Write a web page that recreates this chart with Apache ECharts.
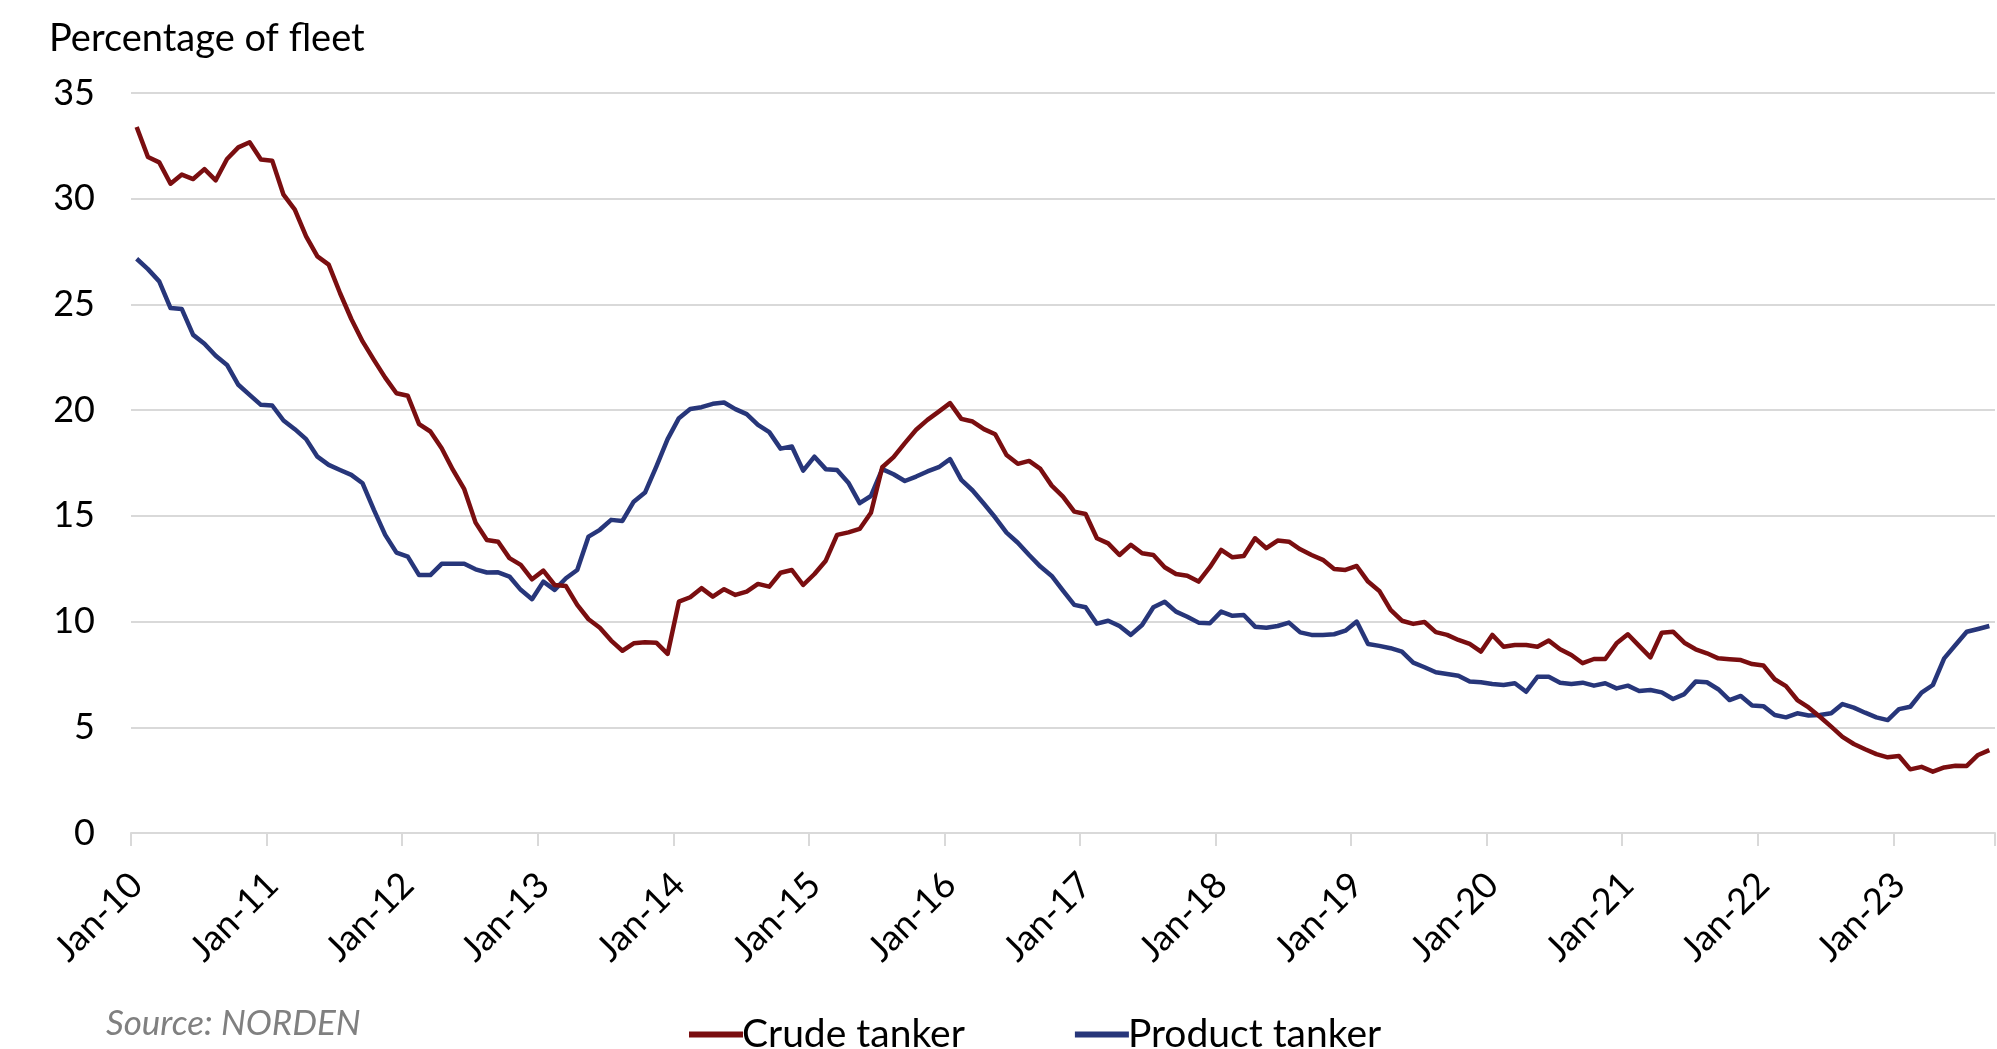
<!DOCTYPE html>
<html>
<head>
<meta charset="utf-8">
<title>Tanker fleet share</title>
<script src="https://cdn.jsdelivr.net/npm/echarts@6/dist/echarts.min.js"></script>
<style>
  html, body { margin: 0; padding: 0; background: #fff; }
  #chart { width: 1997px; height: 1049px; }
</style>
</head>
<body>
<div id="chart"></div>
<script>
// Monthly series, Jan-10 through Sep-23 (percentage of fleet)
const crudeTanker = [
  33.39, 31.97, 31.72, 30.71, 31.14, 30.93, 31.40, 30.87, 31.88, 32.43, 32.67, 31.85,
  31.80, 30.19, 29.48, 28.22, 27.27, 26.88, 25.54, 24.31, 23.25, 22.38, 21.54, 20.80,
  20.68, 19.34, 18.99, 18.20, 17.17, 16.26, 14.68, 13.86, 13.78, 13.00, 12.68, 12.00,
  12.41, 11.73, 11.68, 10.79, 10.11, 9.71, 9.10, 8.62, 8.97, 9.02, 9.00, 8.47,
  10.94, 11.15, 11.58, 11.18, 11.53, 11.26, 11.42, 11.78, 11.65, 12.31, 12.44, 11.73,
  12.25, 12.88, 14.10, 14.22, 14.38, 15.15, 17.30, 17.78, 18.44, 19.07, 19.54, 19.93,
  20.33, 19.59, 19.46, 19.10, 18.86, 17.88, 17.46, 17.60, 17.22, 16.43, 15.91, 15.20,
  15.09, 13.94, 13.70, 13.15, 13.63, 13.23, 13.15, 12.57, 12.25, 12.17, 11.89, 12.57,
  13.39, 13.04, 13.10, 13.94, 13.47, 13.83, 13.78, 13.42, 13.15, 12.92, 12.49, 12.44,
  12.63, 11.89, 11.45, 10.55, 10.04, 9.89, 9.98, 9.50, 9.37, 9.13, 8.94, 8.58,
  9.37, 8.81, 8.89, 8.89, 8.81, 9.10, 8.69, 8.42, 8.03, 8.23, 8.23, 8.97,
  9.40, 8.85, 8.31, 9.47, 9.52, 9.00, 8.69, 8.50, 8.26, 8.22, 8.18, 7.99,
  7.92, 7.27, 6.95, 6.29, 5.94, 5.50, 5.03, 4.55, 4.21, 3.96, 3.73, 3.58,
  3.64, 3.01, 3.13, 2.90, 3.10, 3.18, 3.17, 3.69, 3.92
];

const productTanker = [
  27.16, 26.67, 26.09, 24.83, 24.78, 23.56, 23.14, 22.57, 22.14, 21.20, 20.72, 20.25,
  20.22, 19.51, 19.10, 18.63, 17.80, 17.41, 17.17, 16.94, 16.54, 15.28, 14.10, 13.26,
  13.07, 12.20, 12.20, 12.73, 12.73, 12.73, 12.47, 12.32, 12.33, 12.13, 11.50, 11.06,
  11.89, 11.50, 12.05, 12.44, 14.02, 14.34, 14.81, 14.76, 15.67, 16.10, 17.33, 18.63,
  19.62, 20.05, 20.14, 20.30, 20.36, 20.05, 19.81, 19.30, 18.96, 18.18, 18.28, 17.14,
  17.80, 17.21, 17.17, 16.57, 15.60, 15.94, 17.21, 16.97, 16.65, 16.86, 17.10, 17.30,
  17.68, 16.70, 16.20, 15.57, 14.92, 14.21, 13.73, 13.15, 12.60, 12.16, 11.46, 10.79,
  10.68, 9.90, 10.04, 9.79, 9.37, 9.84, 10.68, 10.94, 10.47, 10.23, 9.95, 9.92,
  10.47, 10.27, 10.31, 9.76, 9.71, 9.79, 9.95, 9.49, 9.37, 9.37, 9.40, 9.57,
  10.00, 8.94, 8.85, 8.74, 8.58, 8.06, 7.84, 7.60, 7.52, 7.44, 7.16, 7.13,
  7.05, 7.00, 7.08, 6.68, 7.39, 7.39, 7.11, 7.05, 7.11, 6.97, 7.08, 6.84,
  6.97, 6.72, 6.76, 6.65, 6.34, 6.57, 7.16, 7.13, 6.80, 6.29, 6.48, 6.03,
  6.00, 5.58, 5.47, 5.66, 5.56, 5.58, 5.66, 6.10, 5.93, 5.69, 5.47, 5.34,
  5.86, 5.97, 6.64, 7.00, 8.26, 8.89, 9.52, 9.65, 9.79
];

const monthNames = ['Jan', 'Feb', 'Mar', 'Apr', 'May', 'Jun', 'Jul', 'Aug', 'Sep', 'Oct', 'Nov', 'Dec'];
const firstYear = 2010;
const yTicks = { min: 0, max: 35, interval: 5 };

// Category labels such as "Jan-10", one per month of data
const months = crudeTanker.map((_, i) => {
  const yy = String((firstYear + Math.floor(i / 12)) % 100).padStart(2, '0');
  return monthNames[i % 12] + '-' + yy;
});

const FONT = 'Lato';
const chart = echarts.init(document.getElementById('chart'), null, { renderer: 'canvas' });

chart.setOption({
  backgroundColor: '#ffffff',
  animation: false,
  title: {
    text: 'Percentage of fleet',
    left: 44,
    top: 15,
    textStyle: { fontFamily: FONT, fontSize: 38, fontWeight: 'normal', color: '#000' }
  },
  legend: {
    data: ['Crude tanker', 'Product tanker'],
    top: 1010,
    left: 684,
    itemGap: 110,
    itemWidth: 54,
    itemHeight: 6,
    icon: 'rect',
    textStyle: { fontFamily: FONT, fontSize: 39, color: '#000', padding: [0, 0, 0, -6] }
  },
  graphic: [{
    type: 'text',
    left: 106,
    top: 1006,
    style: {
      text: 'Source: NORDEN',
      fontFamily: FONT,
      fontSize: 35,
      fontStyle: 'italic',
      fill: '#808080'
    }
  }],
  grid: { left: 131, right: 2, top: 93, bottom: 216, containLabel: false },
  xAxis: {
    type: 'category',
    data: months,
    boundaryGap: true,
    axisLine: { lineStyle: { color: '#d9d9d9', width: 2 } },
    axisTick: { show: true, interval: 11, length: 13, lineStyle: { color: '#d9d9d9', width: 2 } },
    axisLabel: {
      interval: 11,
      rotate: 45,
      margin: 46,
      fontFamily: FONT,
      fontSize: 36,
      color: '#000'
    },
    splitLine: { show: false }
  },
  yAxis: {
    type: 'value',
    min: yTicks.min,
    max: yTicks.max,
    interval: yTicks.interval,
    axisLine: { show: false },
    axisTick: { show: false },
    axisLabel: { margin: 36, fontFamily: FONT, fontSize: 36, color: '#000' },
    splitLine: { lineStyle: { color: '#d9d9d9', width: 2 } }
  },
  series: [
    {
      name: 'Crude tanker',
      type: 'line',
      data: crudeTanker,
      showSymbol: false,
      symbol: 'none',
      color: '#7a0e10',
      lineStyle: { width: 4.5, color: '#7a0e10', join: 'round' },
      z: 3
    },
    {
      name: 'Product tanker',
      type: 'line',
      data: productTanker,
      showSymbol: false,
      symbol: 'none',
      color: '#27367a',
      lineStyle: { width: 4.5, color: '#27367a', join: 'round' },
      z: 2
    }
  ]
});
</script>
</body>
</html>
